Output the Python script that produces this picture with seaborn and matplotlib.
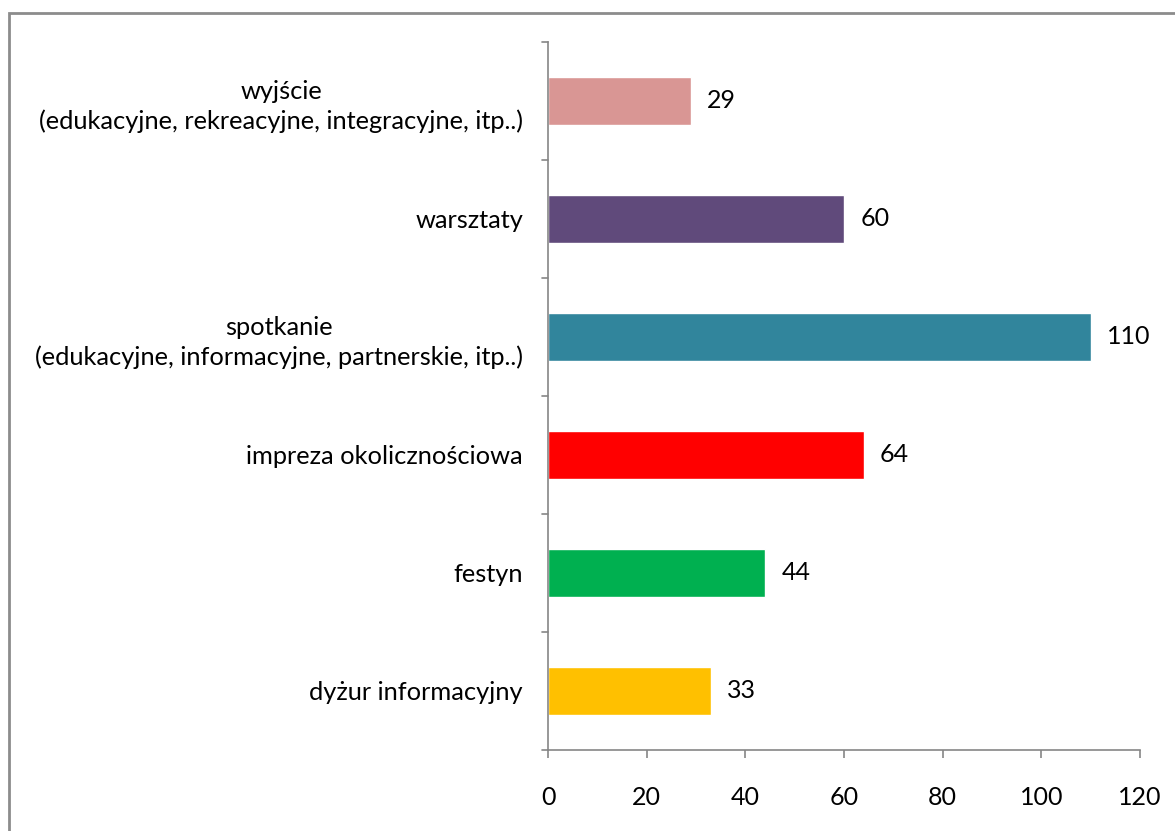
import pandas as pd
import seaborn as sns
import matplotlib.pyplot as plt
from matplotlib.patches import Rectangle

sns.set_theme(style="white")
plt.rcParams['font.family'] = ['Lato', 'DejaVu Sans']

# data (top to bottom as drawn)
categories = [
    "wyjście\n(edukacyjne, rekreacyjne, integracyjne, itp..)",
    "warsztaty",
    "spotkanie\n(edukacyjne, informacyjne, partnerskie, itp..)",
    "impreza okolicznościowa",
    "festyn",
    "dyżur informacyjny",
]
values = [29, 60, 110, 64, 44, 33]
colors = ["#D99694", "#604A7B", "#31859C", "#FF0000", "#00B050", "#FFC000"]
x_ticks = [0, 20, 40, 60, 80, 100, 120]

df = pd.DataFrame({"category": categories, "value": values})

fig = plt.figure(figsize=(11.75, 8.31), dpi=100)
ax = fig.add_axes([548 / 1175, 1 - 750 / 831, (1140 - 548) / 1175, (750 - 42) / 831])

sns.barplot(df, x="value", y="category", hue="category", palette=colors,
            width=0.4, legend=False, ax=ax, orient="h", saturation=1)

for i, v in enumerate(values):
    ax.text(v + 3.3, i, str(v), va="center", ha="left", fontsize=18, color="black")

ax.set_xlim(0, 120)
ax.set_ylim(len(categories) - 0.5, -0.5)
ax.set_xticks(x_ticks)
ax.set_xticklabels([str(t) for t in x_ticks], fontsize=18)
ax.set_xlabel("")
ax.set_ylabel("")
ax.tick_params(axis="y", labelsize=18.3, length=0, pad=18, labelcolor="black")
ax.tick_params(axis="x", bottom=True, length=6, width=1.2, color="#868686", pad=20,
               labelcolor="black")
for lab in ax.get_yticklabels():
    lab.set_multialignment("center")
    lab.set_linespacing(1.35)

# category boundary ticks on y axis
for b in [i - 0.5 for i in range(len(categories) + 1)]:
    ax.plot([-1.2, 0], [b, b], color="#868686", lw=1.2, clip_on=False)

sns.despine(ax=ax, top=True, right=True)
for s in ["left", "bottom"]:
    ax.spines[s].set_color("#868686")
    ax.spines[s].set_linewidth(1.2)

# outer chart border
fig.patches.append(Rectangle((8.5 / 1175, -0.05), 1.2, 1 - 12.5 / 831 + 0.05,
                             transform=fig.transFigure, fill=False,
                             edgecolor="#8C8C8C", linewidth=2))

fig.savefig("out.png", dpi=100)
